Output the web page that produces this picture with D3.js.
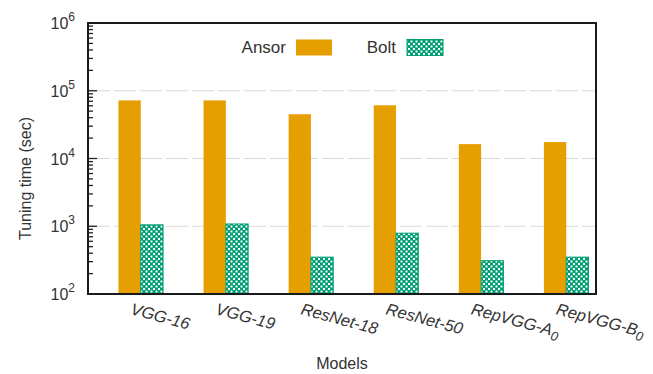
<!DOCTYPE html>
<html>
<head>
<meta charset="utf-8">
<script src="https://cdn.jsdelivr.net/npm/d3@7"></script>
<style>
  html, body { margin: 0; padding: 0; background: #fff; }
  svg { display: block; font-family: "Liberation Sans", Arial, Helvetica, sans-serif; }
</style>
</head>
<body>
<svg id="chart" width="653" height="374"></svg>
<script>
// Tuning time per model, in seconds
const models = ["VGG-16", "VGG-19", "ResNet-18", "ResNet-50", "RepVGG-A0", "RepVGG-B0"];
const ansor = [72000, 72000, 45000, 61000, 16300, 17500];
const bolt  = [1050, 1080, 350, 790, 310, 350];
const seriesNames = ["Ansor", "Bolt"];
const yTicks = [100, 1000, 10000, 100000, 1000000];

const svg = d3.select("#chart");
const plot = { left: 88, right: 596, top: 23, bottom: 294 };
const colors = { Ansor: "#E69F00", Bolt: "#009E73" };

// checker fill for the Bolt bars
const defs = svg.append("defs");
const pat = defs.append("pattern")
  .attr("id", "checker").attr("patternUnits", "userSpaceOnUse")
  .attr("width", 5).attr("height", 5);
pat.append("rect").attr("width", 5).attr("height", 5).attr("fill", colors.Bolt);
pat.append("rect").attr("x", 0.5).attr("y", 0.5).attr("width", 2).attr("height", 2).attr("fill", "#fff");
pat.append("rect").attr("x", 3).attr("y", 3).attr("width", 2).attr("height", 2).attr("fill", "#fff");

const x = d3.scaleLinear().domain([-0.62, 5.35]).range([plot.left, plot.right]);
const y = d3.scaleLog().domain([100, 1e6]).range([plot.bottom, plot.top]);
const barW = 22.3;

// dashed grid lines at each decade
svg.append("g").selectAll("line")
  .data(yTicks.filter(v => v > 100 && v < 1e6))
  .join("line")
  .attr("x1", plot.left).attr("x2", plot.right)
  .attr("y1", d => y(d)).attr("y2", d => y(d))
  .attr("stroke", "#d9d9d9").attr("stroke-width", 1.2)
  .attr("stroke-dasharray", "22,4");

// bars
const series = [
  { name: "Ansor", values: ansor, offset: -1, fill: colors.Ansor },
  { name: "Bolt", values: bolt, offset: 0, fill: "url(#checker)" }
];
series.forEach(s => {
  svg.append("g").selectAll("rect")
    .data(s.values)
    .join("rect")
    .attr("x", (d, i) => x(i) + s.offset * barW)
    .attr("width", barW)
    .attr("y", d => y(d))
    .attr("height", d => plot.bottom - y(d))
    .attr("fill", s.fill)
    .attr("stroke", s.name === "Bolt" ? colors.Bolt : "none")
    .attr("stroke-width", 1);
});

// y axis: major and minor log ticks pointing inward
svg.append("g").selectAll("line")
  .data(y.ticks().filter(v => v >= 100 && v <= 1e6))
  .join("line")
  .attr("x1", plot.left).attr("x2", d => plot.left + (yTicks.includes(d) ? 9 : 5))
  .attr("y1", d => y(d)).attr("y2", d => y(d))
  .attr("stroke", "#222").attr("stroke-width", 1.3);

// y tick labels: 10^n
const yl = svg.append("g").selectAll("text")
  .data(yTicks)
  .join("text")
  .attr("x", 75).attr("y", d => y(d) + 6)
  .attr("text-anchor", "end")
  .attr("font-size", 16).attr("fill", "#333");
yl.append("tspan").text("10");
yl.append("tspan").attr("dy", -8).attr("font-size", 12).text(d => Math.round(Math.log10(d)));

// frame
svg.append("rect")
  .attr("x", plot.left).attr("y", plot.top)
  .attr("width", plot.right - plot.left).attr("height", plot.bottom - plot.top)
  .attr("fill", "none").attr("stroke", "#1a1a1a").attr("stroke-width", 2);

// x tick labels, italic and slanted
const xl = svg.append("g").selectAll("text")
  .data(models)
  .join("text")
  .attr("transform", (d, i) => `translate(${x(i) - 11},${314}) rotate(15)`)
  .attr("font-size", 16.5).attr("font-style", "italic").attr("fill", "#333");
xl.each(function(d) {
  const t = d3.select(this);
  const m = d.match(/^(RepVGG-[AB])(\d)$/);
  if (m) {
    t.append("tspan").text(m[1]);
    t.append("tspan").attr("dy", 4).attr("font-size", 13).text(m[2]);
  } else {
    t.append("tspan").text(d);
  }
});

// axis titles
svg.append("text")
  .attr("x", (plot.left + plot.right) / 2).attr("y", 369)
  .attr("text-anchor", "middle").attr("font-size", 16).attr("fill", "#333")
  .text("Models");
svg.append("text")
  .attr("transform", `translate(31,${(plot.top + plot.bottom) / 2 + 20}) rotate(-90)`)
  .attr("text-anchor", "middle").attr("font-size", 16).attr("fill", "#333")
  .text("Tuning time (sec)");

// legend
const legend = [
  { name: seriesNames[0], textEnd: 286, sx: 296, fill: colors.Ansor },
  { name: seriesNames[1], textEnd: 396, sx: 407, fill: "url(#checker)" }
];
const lg = svg.append("g");
legend.forEach(l => {
  lg.append("text").attr("x", l.textEnd).attr("y", 53)
    .attr("text-anchor", "end").attr("font-size", 17).attr("fill", "#333").text(l.name);
  lg.append("rect").attr("x", l.sx).attr("y", 39.5).attr("width", 36).attr("height", 16)
    .attr("fill", l.fill)
    .attr("stroke", l.name === "Bolt" ? colors.Bolt : "none");
});
</script>
</body>
</html>
